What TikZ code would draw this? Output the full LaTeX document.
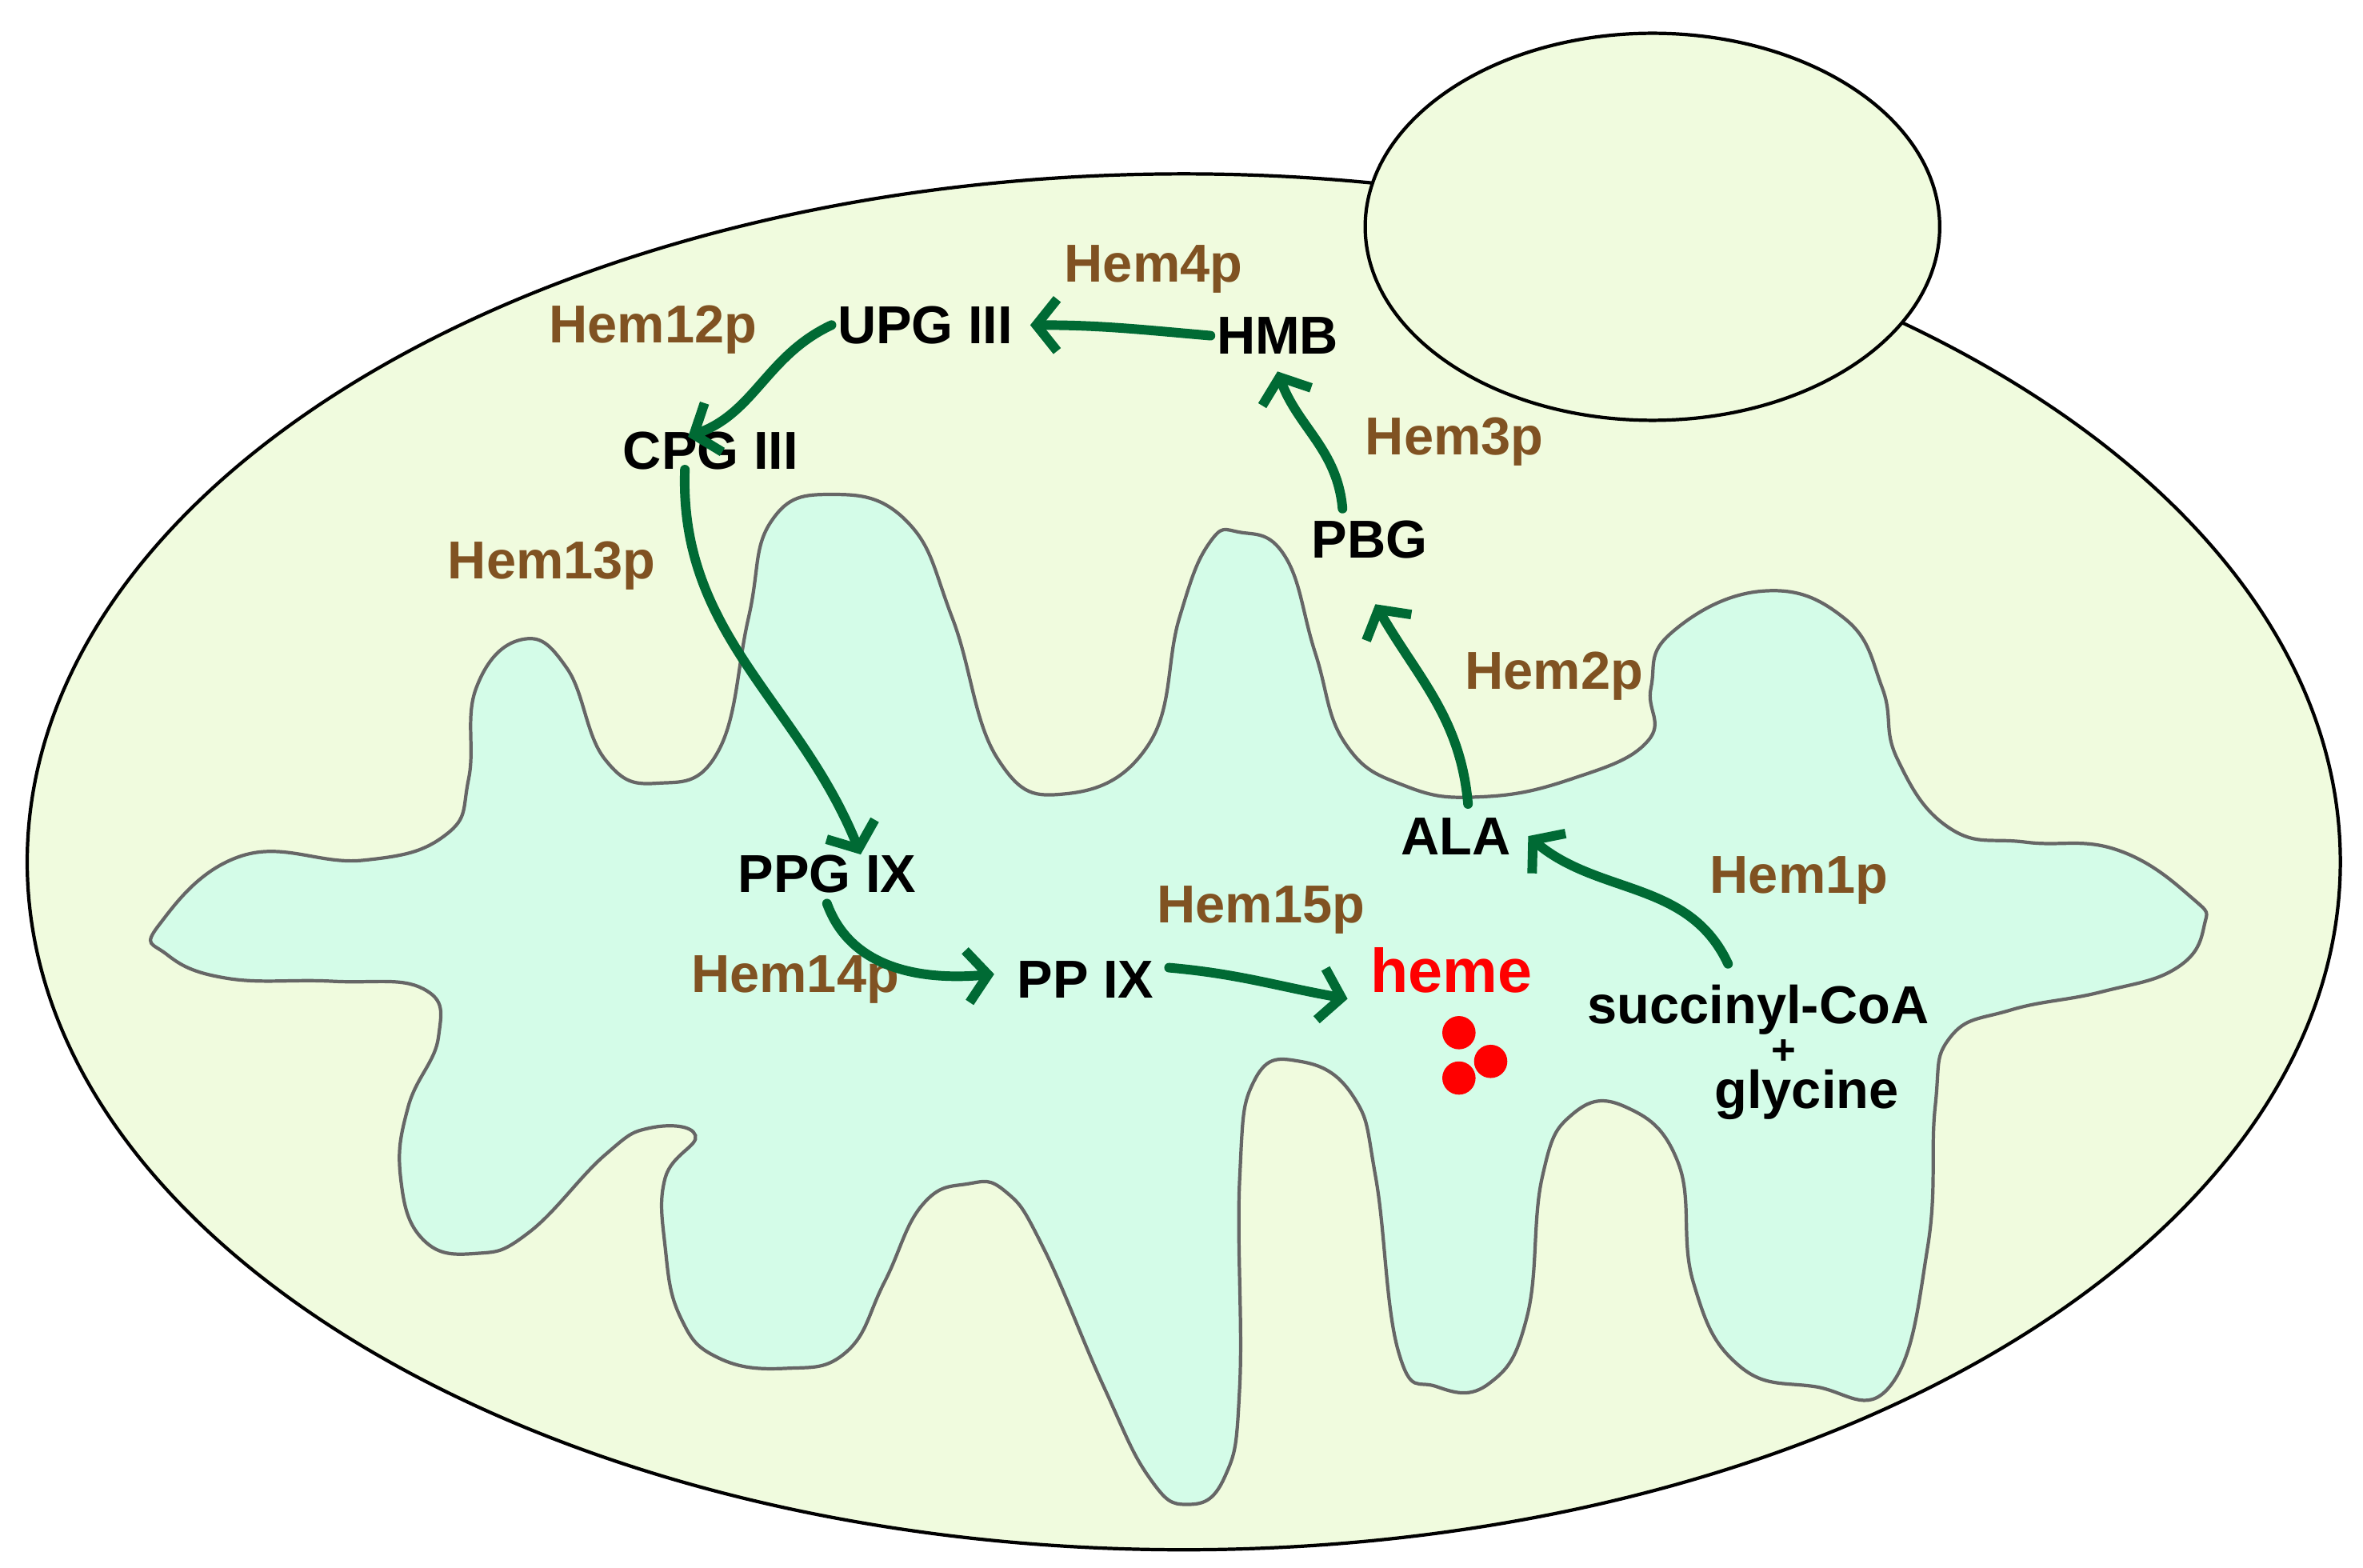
\documentclass[tikz,border=0pt]{standalone}
\usepackage{fontspec}
\setmainfont{Liberation Sans}
\usetikzlibrary{arrows.meta}
\definecolor{outerfill}{RGB}{240,251,222}
\definecolor{innerfill}{RGB}{212,252,232}
\definecolor{flowgreen}{RGB}{0,106,52}
\definecolor{enzbrown}{RGB}{128,82,34}
\tikzset{flow/.style={draw=flowgreen, line width=3.4pt, line cap=round, -{Straight Barb[length=2.6mm,width=6.5mm,line width=3.4pt]}}}
\tikzset{met/.style={font=\fontsize{19}{21}\selectfont\bfseries, inner sep=2pt}}
\tikzset{enz/.style={met, text=enzbrown}}

\begin{document}
\begin{tikzpicture}[x=0.0189cm, y=-0.0189cm]
    \useasboundingbox (0,0) rectangle (1563,1037);
    % outer membrane
    \draw[fill=outerfill, line width=1.2pt] (783,570) ellipse [x radius=765, y radius=455];
    \draw[fill=outerfill, line width=1.2pt] (1093,150) ellipse [x radius=190, y radius=128];
    % inner membrane
    \draw[fill=innerfill, draw=black!60, line width=1.2pt] plot[smooth cycle, tension=0.75] coordinates {
      (105,612) (160,566) (240,569) (295,552) (310,515) (315,455) (345,423) (375,442) (400,502)
      (435,518) (475,497) (495,409) (510,345) (550,327) (600,345) (630,409) (660,502)
      (705,525) (760,492) (780,409) (800,359) (820,352) (850,368) (870,432) (890,492)
      (930,520) (980,527) (1040,515) (1090,490) (1092,455) (1105,419) (1165,391) (1220,409)
      (1245,455) (1255,502) (1290,548) (1340,557) (1400,562) (1450,594) (1458,612)
      (1440,640) (1390,656) (1330,668) (1290,686) (1280,732) (1275,825) (1250,917)
      (1200,917) (1150,903) (1120,848) (1110,769) (1075,732) (1040,737) (1020,779)
      (1010,871) (985,915) (950,917) (925,894) (910,779) (895,725) (860,702) (830,714)
      (820,779) (820,917) (810,977) (785,995) (760,977) (730,917) (690,825) (665,788)
      (640,783) (610,797) (585,848) (560,894) (520,905) (475,898) (450,871) (440,825)
      (440,779) (460,751) (430,746) (400,764) (350,815) (315,829) (280,820) (265,779)
      (270,732) (290,686) (280,654) (220,649) (150,647) (110,631)};

    % metabolites
    \node[met] (upg) at (612,215) {UPG III};
    \node[met] (hmb) at (845,222) {HMB};
    \node[met] (cpg) at (470,298) {CPG III};
    \node[met] (pbg) at (906,357) {PBG};
    \node[met] (ala) at (963,553) {ALA};
    \node[met] (ppg) at (547,578) {PPG IX};
    \node[met] (ppix) at (718,648) {PP IX};
    \node[met, text=red, font=\fontsize{22}{24}\selectfont\bfseries] (heme) at (960,642) {heme};
    \node[met] (succ) at (1163,668) {succinyl-CoA};
    \node[met, inner sep=0pt, font=\fontsize{15}{15}\selectfont\bfseries] (plus) at (1180,696) {+};
    \node[met] (gly) at (1195,724) {glycine};
    \fill[red] (965,683) circle [radius=11] (986,702) circle [radius=11] (965,713) circle [radius=11];

    % enzymes
    \node[enz] (e4) at (763,178) {Hem4p};
    \node[enz] (e12) at (432,218) {Hem12p};
    \node[enz] (e3) at (962,292) {Hem3p};
    \node[enz] (e13) at (365,374) {Hem13p};
    \node[enz] (e2) at (1028,447) {Hem2p};
    \node[enz] (e1) at (1190,582) {Hem1p};
    \node[enz] (e15) at (834,602) {Hem15p};
    \node[enz] (e14) at (526,648) {Hem14p};

    % pathway
    \draw[flow] (hmb.west) to[out=175, in=0] ([xshift=4pt]upg.east);
    \draw[flow] (upg.west) to[out=205, in=20] ([xshift=-8pt, yshift=-4pt]cpg.north);
    \draw[flow] (pbg.north) ++(-18,-4) coordinate (pbgtop) (pbgtop) to[out=95, in=-70] ([yshift=-4pt]hmb.south);
    \draw[flow] (ala.north) ++(8,-5) coordinate (alatop) (alatop) to[out=95, in=-60] ([xshift=2pt, yshift=-14pt]pbg.south);
    \draw[flow] (succ.north) ++(-20,-10) coordinate (succtop) (succtop) to[out=115, in=-40] ([xshift=4pt]ala.east);
    \draw[flow] (cpg.south) ++(-17,-4) coordinate (cpgbot) (cpgbot) to[out=-92, in=112] ([xshift=12pt, yshift=-2pt]ppg.north);
    \draw[flow] (ppg.south) ++(0,3) coordinate (ppgbot) (ppgbot) to[out=-70, in=185] ([xshift=-6pt, yshift=2pt]ppix.west);
    \draw[flow] (ppix.east) ++(6,-8) coordinate (ppixr) (ppixr) to[out=-5, in=170] ([xshift=-6pt, yshift=-10pt]heme.west);
\end{tikzpicture}
\end{document}
